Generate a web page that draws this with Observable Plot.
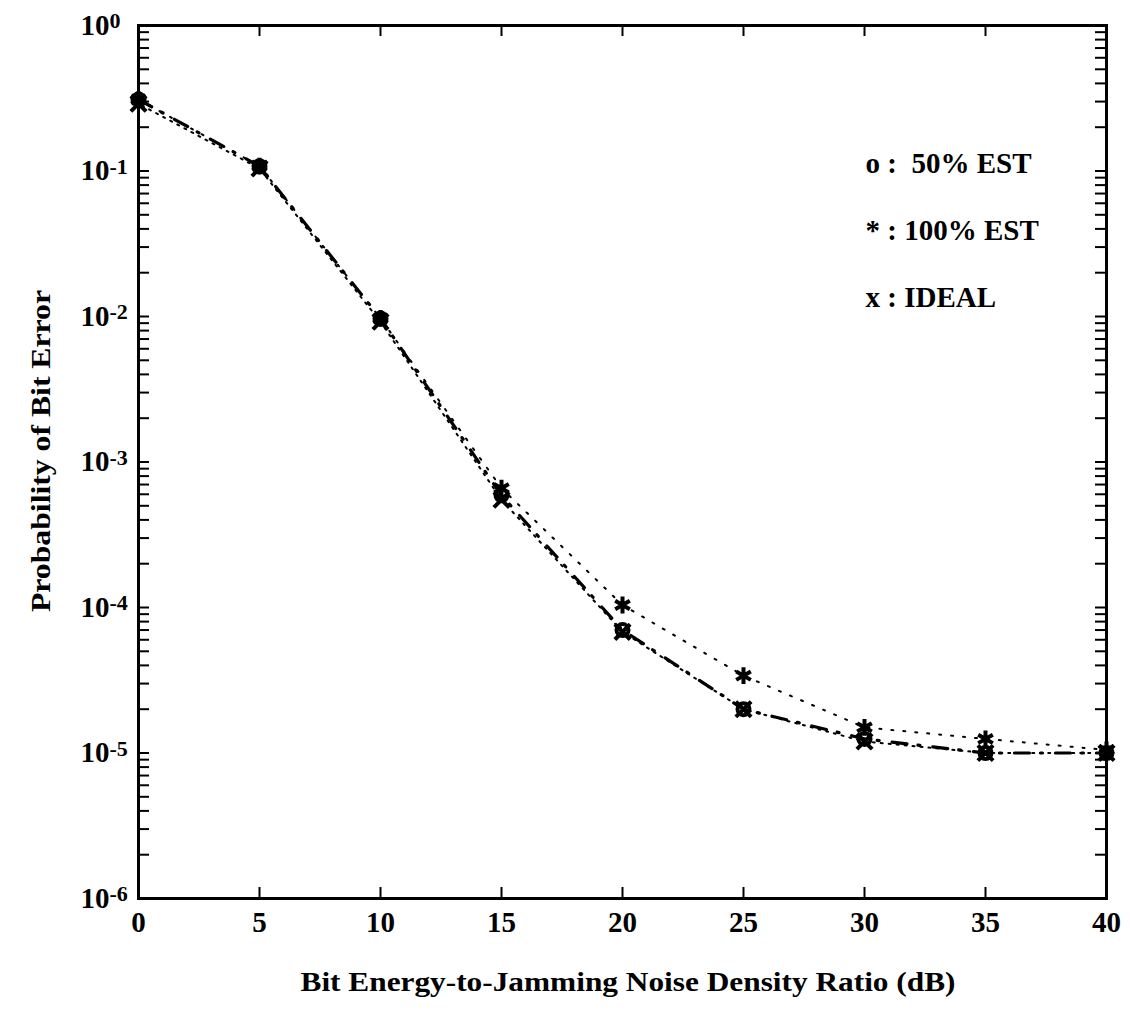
<!DOCTYPE html>
<html><head><meta charset="utf-8">
<script src="https://cdn.jsdelivr.net/npm/d3@7"></script>
<script src="https://cdn.jsdelivr.net/npm/@observablehq/plot@0.6"></script>
<style>
body{margin:0;background:#fff}
#chart svg{font-family:"Liberation Serif","Times New Roman",serif;background:#fff}
</style>
</head><body><div id="chart"></div>
<script>
const snr = [0, 5, 10, 15, 20, 25, 30, 35, 40];
const est50 = [0.31, 0.108, 0.0097, 5.9e-4, 7.0e-5, 2.0e-5, 1.25e-5, 1.0e-5, 1.0e-5];
const est100 = [0.31, 0.108, 0.0097, 6.6e-4, 1.04e-4, 3.4e-5, 1.5e-5, 1.25e-5, 1.05e-5];
const ideal = [0.29, 0.104, 0.0092, 5.5e-4, 6.8e-5, 2.0e-5, 1.2e-5, 1.0e-5, 1.0e-5];
const xTicks = [0, 5, 10, 15, 20, 25, 30, 35, 40];
const yDecades = [1, 1e-1, 1e-2, 1e-3, 1e-4, 1e-5, 1e-6];
const yExponents = ["0", "-1", "-2", "-3", "-4", "-5", "-6"];
const legendLabels = ["o :\u00a0 50% EST", "* : 100% EST", "x : IDEAL"];
const xLabel = "Bit Energy-to-Jamming Noise Density Ratio (dB)";
const yLabel = "Probability of Bit Error";

const rows = (vals) => snr.map((x, i) => ({x, y: vals[i]}));
const d50 = rows(est50), d100 = rows(est100), dId = rows(ideal);

const W = 1130, H = 1011;
const mL = 138, mR = 24, mT = 25, mB = 113;
const fw = W - mL - mR, fh = H - mT - mB;
const tickLen = 11;

const minor = [];
for (const d of yDecades.slice(1)) for (let k = 2; k <= 9; k++) minor.push(k * d);
const yAllTicks = yDecades.concat(minor);
const xInner = xTicks.slice(1, -1);

const ink = "#000";
const plot = Plot.plot({
  width: W, height: H,
  marginLeft: mL, marginRight: mR, marginTop: mT, marginBottom: mB,
  style: {fontFamily: "Liberation Serif, Times New Roman, serif", fontWeight: "bold", background: "#fff"},
  x: {domain: [0, 40]},
  y: {type: "log", domain: [1e-6, 1]},
  marks: [
    // inward ticks
    Plot.tickY(yAllTicks, {y: d => d, stroke: ink, strokeWidth: 2, insetRight: fw - tickLen}),
    Plot.tickY(yAllTicks, {y: d => d, stroke: ink, strokeWidth: 2, insetLeft: fw - tickLen}),
    Plot.tickX(xInner, {x: d => d, stroke: ink, strokeWidth: 2, insetTop: fh - tickLen}),
    Plot.tickX(xInner, {x: d => d, stroke: ink, strokeWidth: 2, insetBottom: fh - tickLen}),
    Plot.axisY({ticks: yDecades, tickSize: 0, tickPadding: 10, fontSize: 29, fontWeight: "bold",
      tickFormat: d => "10" + yExponents[yDecades.indexOf(d)], label: null}),
    Plot.axisX({ticks: xTicks, tickSize: 0, tickPadding: 13, fontSize: 29, fontWeight: "bold",
      tickFormat: d => String(d), label: null}),
    // series lines
    Plot.line(dId, {x: "x", y: "y", stroke: ink, strokeWidth: 2, strokeDasharray: "2,6", strokeDashoffset: 4}),
    Plot.line(d100, {x: "x", y: "y", stroke: ink, strokeWidth: 2, strokeDasharray: "2,10"}),
    Plot.line(d50, {x: "x", y: "y", stroke: ink, strokeWidth: 3.2, strokeDasharray: "15,11,2,13"}),
    // markers
    Plot.dot(d50, {x: "x", y: "y", symbol: "circle", r: 6, stroke: ink, strokeWidth: 4, fill: "none"}),
    Plot.dot(d100, {x: "x", y: "y", symbol: "asterisk", r: 8, stroke: ink, strokeWidth: 4}),
    Plot.dot(dId, {x: "x", y: "y", symbol: "times", r: 7, stroke: ink, strokeWidth: 4}),
    Plot.frame({stroke: ink, strokeWidth: 3}),
    // legend
    ...legendLabels.map((t, i) => Plot.text([t], {frameAnchor: "top-left", textAnchor: "start",
      dx: 727, dy: 127 + i * 67, fontSize: 29, fontWeight: "bold", fill: ink})),
    // axis titles
    Plot.text([xLabel], {frameAnchor: "bottom-left", textAnchor: "start", dx: 162, dy: 92,
      fontSize: 27, fontWeight: "bold", fill: ink}),
    Plot.text([yLabel], {frameAnchor: "left", rotate: -90, textAnchor: "middle", dx: -97, dy: -11,
      fontSize: 28, fontWeight: "bold", fill: ink})
  ]
});

// y tick labels: "10" right-aligned at a common edge, exponent raised after it
d3.select(plot).selectAll('g[aria-label="y-axis tick label"] text').each(function() {
  const t = d3.select(this);
  const s = t.text();
  const exp = s.slice(2);
  t.text(null).attr("text-anchor", "start").attr("dx", -58 + 10);
  t.append("tspan").text("10");
  t.append("tspan").attr("font-size", 22).attr("dy", "-0.3em").text(exp);
});

// stretch the axis titles to the scanned widths
d3.select(plot).selectAll('g[aria-label="text"] text').each(function() {
  const t = d3.select(this);
  if (t.text() === xLabel) t.attr("textLength", 655).attr("lengthAdjust", "spacingAndGlyphs");
  if (t.text() === yLabel) t.attr("textLength", 322).attr("lengthAdjust", "spacingAndGlyphs");
});

document.getElementById("chart").appendChild(plot);
</script>
</body></html>
